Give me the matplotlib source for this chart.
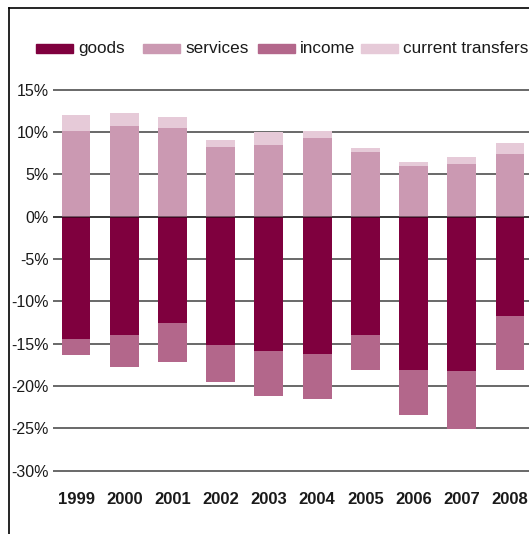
import matplotlib
matplotlib.use("Agg")
import matplotlib.pyplot as plt
from matplotlib.patches import Rectangle
from matplotlib.lines import Line2D

years = ["1999", "2000", "2001", "2002", "2003", "2004", "2005", "2006", "2007", "2008"]
goods = [-14.45, -14.0, -12.55, -15.15, -15.85, -16.2, -14.0, -18.1, -18.2, -11.7]
income = [-1.85, -3.75, -4.6, -4.35, -5.35, -5.3, -4.1, -5.3, -6.85, -6.4]
services = [10.1, 10.7, 10.5, 8.2, 8.45, 9.3, 7.65, 6.0, 6.2, 7.4]
transfers = [1.9, 1.5, 1.3, 0.85, 1.55, 0.8, 0.45, 0.45, 0.85, 1.3]
series_names = ["goods", "services", "income", "current transfers"]
yticks = [15, 10, 5, 0, -5, -10, -15, -20, -25, -30]

colors = {"goods": "#7f003e", "services": "#cb99b2", "income": "#b3678b", "current transfers": "#e6cad8"}

plt.rcParams['font.family'] = ['Liberation Sans', 'DejaVu Sans']

W, H = 529, 534
fig = plt.figure(figsize=(W / 100, H / 100), dpi=100)

def fx(px):
    return px / W

def fy(py):
    return 1 - py / H

ymin, ymax = -32, 16
ppu = 8.47
top_px = 89.5 - (ymax - 15) * ppu
bot_px = 470.7 + (-30 - ymin) * ppu
ax = fig.add_axes([fx(53), fy(bot_px), 1 - fx(53), fy(top_px) - fy(bot_px)])

x = list(range(len(years)))
w = 0.6
ax.bar(x, goods, w, color=colors["goods"], zorder=2)
ax.bar(x, income, w, bottom=goods, color=colors["income"], zorder=2)
ax.bar(x, services, w, color=colors["services"], zorder=2)
ax.bar(x, transfers, w, bottom=services, color=colors["current transfers"], zorder=2)

for t in yticks:
    ax.axhline(t, color="#404040", lw=1.1, zorder=1)
ax.axhline(0, color="black", lw=1.1, alpha=0.55, zorder=3)

ax.set_xlim(-0.477, 9.394)
ax.set_ylim(ymin, ymax)
ax.set_yticks(yticks)
ax.set_yticklabels([f"{t}%" for t in yticks], fontsize=11.5, color="#1a1a1a")
ax.set_xticks(x)
ax.set_xticklabels(years, fontsize=12, fontweight="bold", color="#1a1a1a")
ax.tick_params(axis="both", length=0)
ax.tick_params(axis="y", pad=3)
ax.tick_params(axis="x", pad=3)
for s in ax.spines.values():
    s.set_visible(False)

# legend drawn manually
handle_x = [36, 143, 258, 361]
for name, hx in zip(series_names, handle_x):
    fig.patches.append(Rectangle((fx(hx), fy(52.5)), fx(37), 8 / H, color=colors[name],
                                 transform=fig.transFigure, figure=fig))
    fig.text(fx(hx + 42), fy(48.5), name, fontsize=12.3, va="center", ha="left", color="#1a1a1a")

# border
fig.add_artist(Line2D([fx(9), 1.0], [fy(8.3), fy(8.3)], color="black", lw=1.2, transform=fig.transFigure))
fig.add_artist(Line2D([fx(9), fx(9)], [fy(8.3), 0], color="black", lw=1.2, transform=fig.transFigure))

fig.savefig("out.png", dpi=100)
